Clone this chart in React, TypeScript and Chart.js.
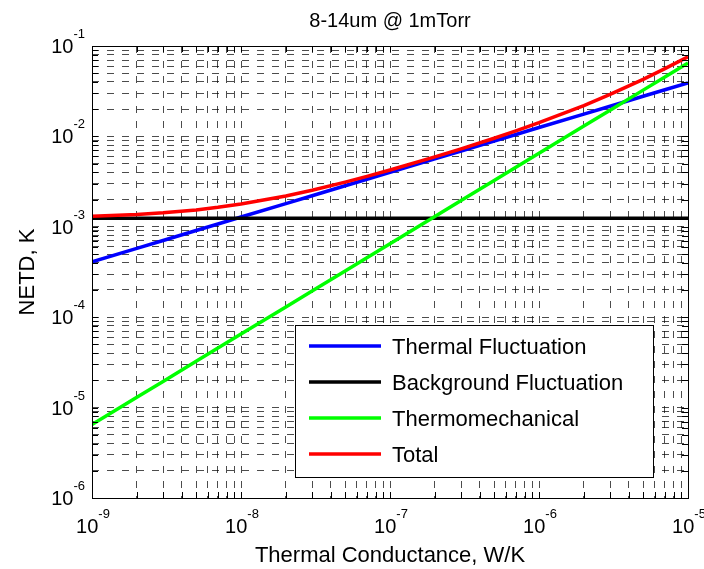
import React, { useEffect, useRef } from 'react';
import { Chart, registerables } from 'chart.js';

Chart.register(...registerables);

const chartTitle = '8-14um @ 1mTorr';
const xAxisTitle = 'Thermal Conductance, W/K';
const yAxisTitle = 'NETD, K';

const conductance = [1e-9, 2e-9, 3e-9, 5e-9, 7e-9, 1e-8, 2e-8, 3e-8, 5e-8, 7e-8, 1e-7, 2e-7, 3e-7, 5e-7, 7e-7, 1e-6, 2e-6, 3e-6, 5e-6, 7e-6, 1e-5];
const thermalFluct = [4.10e-4, 5.78e-4, 7.06e-4, 9.09e-4, 1.074e-3, 1.282e-3, 1.806e-3, 2.208e-3, 2.843e-3, 3.358e-3, 4.007e-3, 5.647e-3, 6.902e-3, 8.888e-3, 1.050e-2, 1.253e-2, 1.765e-2, 2.158e-2, 2.778e-2, 3.282e-2, 3.916e-2];
const backgroundX = [1e-9, 1e-5];
const backgroundFluct = [1.24e-3, 1.24e-3];
const thermomech = [6.5e-6, 1.3e-5, 1.95e-5, 3.25e-5, 4.55e-5, 6.5e-5, 1.3e-4, 1.95e-4, 3.25e-4, 4.55e-4, 6.5e-4, 1.3e-3, 1.95e-3, 3.25e-3, 4.55e-3, 6.5e-3, 1.3e-2, 1.95e-2, 3.25e-2, 4.55e-2, 6.5e-2];
const totalNetd = [1.306e-3, 1.368e-3, 1.427e-3, 1.538e-3, 1.641e-3, 1.785e-3, 2.195e-3, 2.540e-3, 3.119e-3, 3.608e-3, 4.245e-3, 5.926e-3, 7.279e-3, 9.545e-3, 1.151e-2, 1.417e-2, 2.196e-2, 2.911e-2, 4.277e-2, 5.612e-2, 7.590e-2];

const seriesLabels = ['Thermal Fluctuation', 'Background Fluctuation', 'Thermomechanical', 'Total'];
const seriesColors = ['#0000ff', '#000000', '#00ff00', '#ff0000'];
const seriesDrawOrder = [3, 2, 1, 0];

const xDecades = [-9, -8, -7, -6, -5];
const yDecades = [-6, -5, -4, -3, -2, -1];
const minorMultipliers = [1, 2, 3, 4, 5, 6, 7, 8, 9];

const FONT = '"Liberation Sans", Arial, Helvetica, sans-serif';

function logTicks(decades: number[]) {
  const out: { value: number }[] = [];
  decades.forEach((d, i) => {
    if (i === decades.length - 1) {
      out.push({ value: Math.pow(10, d) });
    } else {
      minorMultipliers.forEach((m) => out.push({ value: m * Math.pow(10, d) }));
    }
  });
  return out;
}

const decorPlugin = {
  id: 'decor',
  afterDraw(chart: any) {
    const { ctx, chartArea: a, scales } = chart;
    const xs = scales.x;
    const ys = scales.y;
    ctx.save();
    ctx.setLineDash([]);

    // tick marks inside on all four sides
    const L = 6;
    ctx.strokeStyle = '#000';
    ctx.lineWidth = 1;
    ctx.beginPath();
    xs.ticks.forEach((t: any) => {
      const px = Math.round(xs.getPixelForValue(t.value)) + 0.5;
      ctx.moveTo(px, a.bottom);
      ctx.lineTo(px, a.bottom - L);
      ctx.moveTo(px, a.top);
      ctx.lineTo(px, a.top + L);
    });
    ys.ticks.forEach((t: any) => {
      const py = Math.round(ys.getPixelForValue(t.value)) + 0.5;
      ctx.moveTo(a.left, py);
      ctx.lineTo(a.left + L, py);
      ctx.moveTo(a.right, py);
      ctx.lineTo(a.right - L, py);
    });
    ctx.stroke();

    // axes box
    ctx.strokeRect(Math.round(a.left) + 0.5, Math.round(a.top) + 0.5, Math.round(a.right - a.left), Math.round(a.bottom - a.top));

    // tick labels
    ctx.fillStyle = '#000';
    ctx.textBaseline = 'alphabetic';
    const big = `20px ${FONT}`;
    const small = `13px ${FONT}`;
    xDecades.forEach((d) => {
      const px = xs.getPixelForValue(Math.pow(10, d));
      ctx.font = big;
      const w1 = ctx.measureText('10').width;
      ctx.font = small;
      const exp = String(d);
      const w2 = ctx.measureText(exp).width;
      const left = px - (w1 + w2) / 2 + 1;
      ctx.font = big;
      ctx.textAlign = 'left';
      ctx.fillText('10', left, a.bottom + 35);
      ctx.font = small;
      ctx.fillText(exp, left + w1, a.bottom + 20);
    });
    yDecades.forEach((d) => {
      const py = ys.getPixelForValue(Math.pow(10, d));
      ctx.font = big;
      const w1 = ctx.measureText('10').width;
      ctx.font = small;
      const exp = String(d);
      const w2 = ctx.measureText(exp).width;
      const right = a.left - 7;
      ctx.textAlign = 'left';
      ctx.font = big;
      ctx.fillText('10', right - w2 - w1, py + 7);
      ctx.font = small;
      ctx.fillText(exp, right - w2, py - 8);
    });

    // title
    const cx = (a.left + a.right) / 2;
    ctx.textAlign = 'center';
    ctx.font = `20px ${FONT}`;
    ctx.fillText(chartTitle, cx, 27);
    // x axis title
    ctx.font = `22px ${FONT}`;
    ctx.fillText(xAxisTitle, cx, a.bottom + 64);
    // y axis title
    ctx.save();
    ctx.translate(34, (a.top + a.bottom) / 2);
    ctx.rotate(-Math.PI / 2);
    ctx.fillText(yAxisTitle, 0, 0);
    ctx.restore();

    // legend
    const bw = 358;
    const bh = 152;
    const bx = Math.round(a.right - 35 - bw);
    const by = Math.round(a.bottom - 21 - bh);
    ctx.fillStyle = '#fff';
    ctx.fillRect(bx, by, bw, bh);
    ctx.strokeStyle = '#000';
    ctx.lineWidth = 1;
    ctx.strokeRect(bx + 0.5, by + 0.5, bw, bh);
    chart.data.datasets.forEach((ds: any, i: number) => {
      const ry = by + 21 + i * 36;
      ctx.strokeStyle = ds.borderColor;
      ctx.lineWidth = 3.5;
      ctx.beginPath();
      ctx.moveTo(bx + 14, ry);
      ctx.lineTo(bx + 86, ry);
      ctx.stroke();
      ctx.fillStyle = '#000';
      ctx.font = `22px ${FONT}`;
      ctx.textAlign = 'left';
      ctx.fillText(ds.label, bx + 97, ry + 8);
    });
    ctx.restore();
  },
};

export default function App() {
  const ref = useRef<HTMLCanvasElement>(null);
  useEffect(() => {
    document.body.style.margin = '0';
    const xSeries = [conductance, backgroundX, conductance, conductance];
    const ySeries = [thermalFluct, backgroundFluct, thermomech, totalNetd];
    const datasets = seriesLabels.map((label, i) => ({
      label,
      data: xSeries[i].map((x, j) => ({ x, y: ySeries[i][j] })),
      borderColor: seriesColors[i],
      backgroundColor: seriesColors[i],
      borderWidth: 3.5,
      pointRadius: 0,
      tension: 0,
      fill: false,
      order: seriesDrawOrder[i],
    }));
    const gridCommon = {
      color: 'rgba(0,0,0,0.7)',
      lineWidth: 1,
      drawTicks: false,
    };
    const chart = new Chart(ref.current!, {
      type: 'line',
      data: { datasets },
      options: {
        responsive: false,
        animation: false,
        devicePixelRatio: 1,
        parsing: false as any,
        layout: { padding: { top: 46, right: 16, bottom: 0, left: 0 } },
        plugins: {
          legend: { display: false },
          tooltip: { enabled: false },
          title: { display: false },
        },
        scales: {
          x: {
            type: 'logarithmic',
            min: 1e-9,
            max: 1e-5,
            ticks: { display: false },
            grid: gridCommon,
            border: { display: false, dash: [7, 8] },
            afterBuildTicks: (s: any) => { s.ticks = logTicks(xDecades); },
            afterFit: (s: any) => { s.height = 71; },
          },
          y: {
            type: 'logarithmic',
            min: 1e-6,
            max: 1e-1,
            ticks: { display: false },
            grid: gridCommon,
            border: { display: false, dash: [7, 8] },
            afterBuildTicks: (s: any) => { s.ticks = logTicks(yDecades); },
            afterFit: (s: any) => { s.width = 92; },
          },
        },
      },
      plugins: [decorPlugin],
    } as any);
    return () => chart.destroy();
  }, []);
  return (
    <div style={{ width: 704, height: 569, background: '#fff' }}>
      <canvas ref={ref} width={704} height={569} style={{ display: 'block' }} />
    </div>
  );
}
